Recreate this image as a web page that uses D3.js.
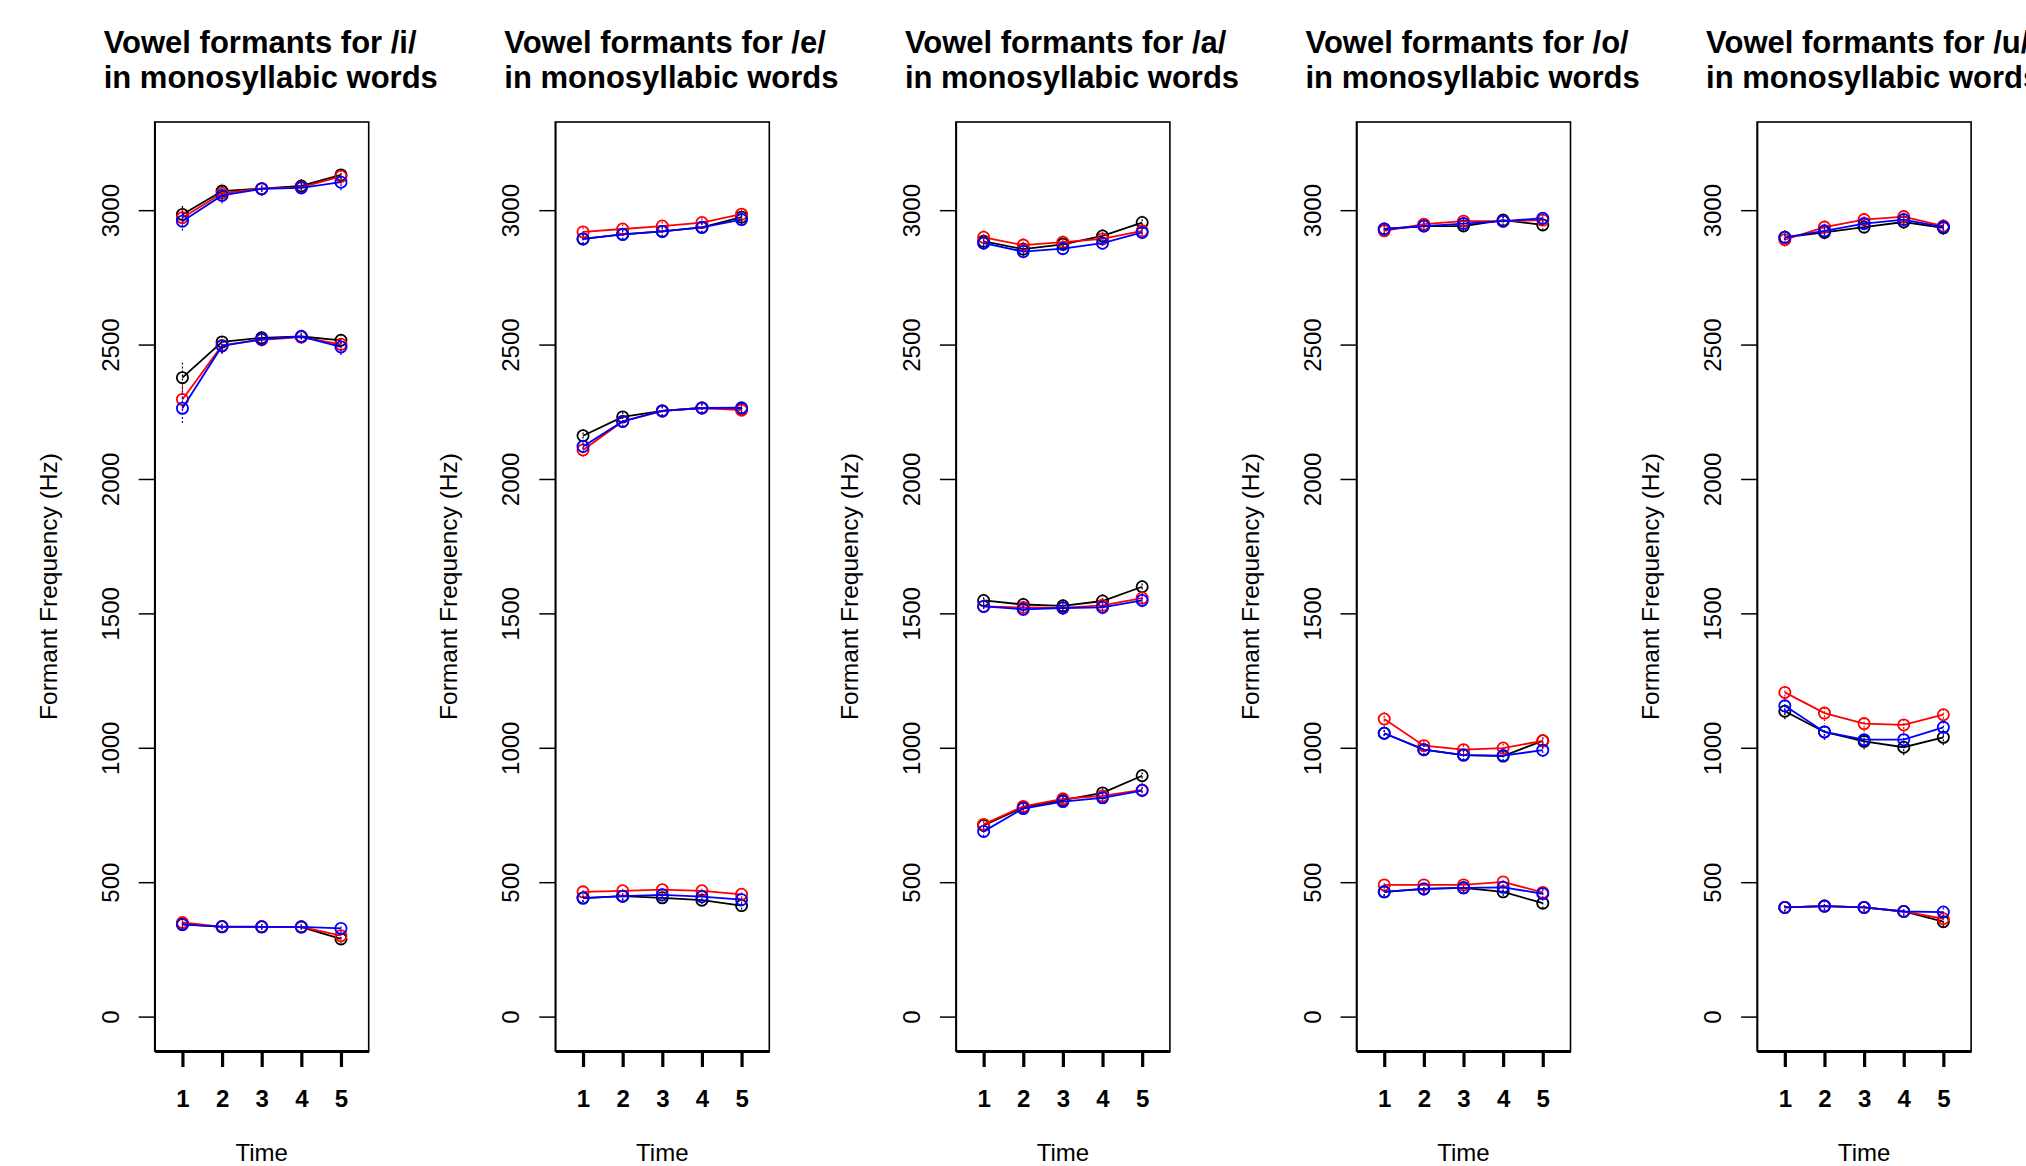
<!DOCTYPE html>
<html>
<head>
<meta charset="utf-8">
<script src="https://cdn.jsdelivr.net/npm/d3@7"></script>
<style>
  body { margin: 0; background: #fff; }
  svg { display: block; font-family: "Liberation Sans", Arial, Helvetica, sans-serif; }
</style>
</head>
<body>
<div id="chart"></div>
<script>
// chart size and panel layout
const width = 2026;
const height = 1166;
const panelStep = 400.6;
const box = {left: 154.7, width: 214, top: 122, bottom: 1051};

// data: one array per vowel per formant, rows = series (black, red, blue), cols = time 1..5
const vowels = ["i", "e", "a", "o", "u"];
const times = [1, 2, 3, 4, 5];
const yTicks = [0, 500, 1000, 1500, 2000, 2500, 3000];
const seriesColors = ["black", "red", "blue"];

const iF1 = [[344, 334, 334, 333, 289], [350, 334, 334, 334, 301], [342, 335, 334, 334, 328]];
const iF2 = [[2377, 2510, 2525, 2530, 2516], [2296, 2497, 2518, 2528, 2501], [2263, 2495, 2520, 2530, 2491]];
const iF3 = [[2984, 3071, 3080, 3090, 3131], [2972, 3063, 3080, 3085, 3126], [2959, 3055, 3079, 3083, 3104]];

const eF1 = [[441, 448, 442, 433, 413], [464, 468, 472, 468, 455], [441, 448, 453, 446, 435]];
const eF2 = [[2161, 2231, 2253, 2264, 2262], [2108, 2214, 2253, 2264, 2256], [2121, 2214, 2253, 2264, 2265]];
const eF3 = [[2893, 2910, 2921, 2936, 2974], [2919, 2930, 2941, 2954, 2985], [2893, 2910, 2921, 2936, 2965]];

const aF1 = [[711, 778, 805, 832, 896], [715, 782, 810, 821, 843], [689, 774, 800, 814, 841]];
const aF2 = [[1548, 1533, 1528, 1546, 1599], [1526, 1522, 1520, 1530, 1557], [1526, 1515, 1520, 1522, 1548]];
const aF3 = [[2884, 2855, 2873, 2904, 2954], [2899, 2870, 2881, 2893, 2923], [2877, 2846, 2857, 2877, 2917]];

const oF1 = [[464, 475, 479, 464, 422], [490, 490, 490, 501, 462], [464, 475, 479, 481, 457]];
const oF2 = [[1054, 993, 973, 969, 1026], [1107, 1008, 993, 999, 1026], [1054, 993, 973, 971, 991]];
const oF3 = [[2930, 2941, 2941, 2963, 2945], [2923, 2948, 2959, 2959, 2963], [2930, 2941, 2950, 2959, 2970]];

const uF1 = [[406, 411, 406, 391, 353], [406, 411, 406, 391, 364], [406, 411, 406, 391, 389]];
const uF2 = [[1136, 1059, 1024, 1002, 1039], [1206, 1129, 1090, 1085, 1123], [1156, 1059, 1030, 1030, 1076]];
const uF3 = [[2899, 2917, 2937, 2956, 2934], [2890, 2937, 2965, 2976, 2941], [2899, 2923, 2950, 2965, 2937]];

// error bar half-widths (Hz), per formant per time point
const iErr = [[15, 10, 10, 10, 15], [55, 30, 25, 25, 30], [35, 30, 25, 25, 30]];
const eErr = [[15, 15, 15, 15, 15], [25, 20, 20, 20, 20], [20, 20, 20, 20, 20]];
const aErr = [[20, 20, 20, 20, 25], [25, 25, 25, 25, 25], [25, 25, 25, 25, 25]];
const oErr = [[15, 15, 15, 15, 20], [25, 20, 20, 20, 25], [20, 20, 20, 20, 20]];
const uErr = [[15, 15, 15, 15, 20], [30, 30, 30, 30, 30], [25, 25, 25, 25, 25]];

const formantData = {
  i: [iF1, iF2, iF3], e: [eF1, eF2, eF3], a: [aF1, aF2, aF3],
  o: [oF1, oF2, oF3], u: [uF1, uF2, uF3]
};
const errData = {i: iErr, e: eErr, a: aErr, o: oErr, u: uErr};

const svg = d3.select("#chart")
  .append("svg")
  .attr("width", width)
  .attr("height", height);

// R style axis limits: 0..3200 and 0.5..5.5 with 4% padding
const yScale = d3.scaleLinear()
  .domain([-128, 3328])
  .range([box.bottom, box.top]);

vowels.forEach((v, k) => {
  const left = box.left + panelStep * k;
  const g = svg.append("g");

  const xScale = d3.scaleLinear()
    .domain([0.3, 5.7])
    .range([left, left + box.width]);

  // title (two lines)
  g.append("text")
    .attr("x", left - 51)
    .attr("y", 53)
    .attr("font-size", "31px")
    .attr("font-weight", "bold")
    .text(`Vowel formants for /${v}/`);
  g.append("text")
    .attr("x", left - 51)
    .attr("y", 88)
    .attr("font-size", "31px")
    .attr("font-weight", "bold")
    .text("in monosyllabic words");

  // y axis
  const yAxis = g.append("g")
    .attr("transform", `translate(${left},0)`)
    .call(d3.axisLeft(yScale).tickValues(yTicks).tickFormat(d3.format("d"))
      .tickSize(16).tickSizeOuter(0));
  yAxis.select(".domain").attr("stroke-width", 1.5);
  yAxis.selectAll(".tick line").attr("stroke-width", 1.5);
  yAxis.selectAll(".tick text")
    .attr("font-size", "24px")
    .attr("font-family", null)
    .attr("fill", "#000")
    .attr("x", 0)
    .attr("dy", 0)
    .attr("text-anchor", "middle")
    .attr("transform", "translate(-36,0) rotate(-90)");

  // x axis
  const xAxis = g.append("g")
    .attr("transform", `translate(0,${box.bottom})`)
    .call(d3.axisBottom(xScale).tickValues(times).tickFormat(d3.format("d"))
      .tickSize(16).tickSizeOuter(0).tickPadding(0));
  xAxis.select(".domain").attr("stroke-width", 3.2);
  xAxis.selectAll(".tick line").attr("stroke-width", 3.2);
  xAxis.selectAll(".tick text")
    .attr("font-size", "24px")
    .attr("font-weight", "bold")
    .attr("font-family", null)
    .attr("fill", "#000")
    .attr("y", 0)
    .attr("dy", 0)
    .attr("transform", "translate(0,56)");

  // plot box
  g.append("rect")
    .attr("x", left)
    .attr("y", box.top)
    .attr("width", box.width)
    .attr("height", box.bottom - box.top)
    .attr("fill", "none")
    .attr("stroke", "#000")
    .attr("stroke-width", 1.6);

  // axis labels
  g.append("text")
    .attr("transform", `translate(${left - 98},${(box.top + box.bottom) / 2}) rotate(-90)`)
    .attr("text-anchor", "middle")
    .attr("font-size", "24.5px")
    .text("Formant Frequency (Hz)");
  g.append("text")
    .attr("x", left + box.width / 2)
    .attr("y", 1161)
    .attr("text-anchor", "middle")
    .attr("font-size", "24px")
    .text("Time");

  const line = d3.line()
    .x((d, i) => xScale(times[i]))
    .y(d => yScale(d));

  // series: black first, then red, then blue on top
  seriesColors.forEach((col, s) => {
    formantData[v].forEach((formant, f) => {
      const vals = formant[s];
      const errs = errData[v][f];

      g.append("path")
        .datum(vals)
        .attr("d", line)
        .attr("fill", "none")
        .attr("stroke", col)
        .attr("stroke-width", 1.8);

      // error bars (thin, dotted like the original)
      g.selectAll(null)
        .data(vals)
        .enter()
        .append("line")
          .attr("x1", (d, i) => xScale(times[i]))
          .attr("x2", (d, i) => xScale(times[i]))
          .attr("y1", (d, i) => yScale(d - errs[i]))
          .attr("y2", (d, i) => yScale(d + errs[i]))
          .attr("stroke", col)
          .attr("stroke-width", 1.2)
          .attr("stroke-dasharray", "2,2");

      g.selectAll(null)
        .data(vals)
        .enter()
        .append("circle")
          .attr("cx", (d, i) => xScale(times[i]))
          .attr("cy", d => yScale(d))
          .attr("r", 5.6)
          .attr("fill", "none")
          .attr("stroke", col)
          .attr("stroke-width", 1.8);
    });
  });
});
</script>
</body>
</html>
